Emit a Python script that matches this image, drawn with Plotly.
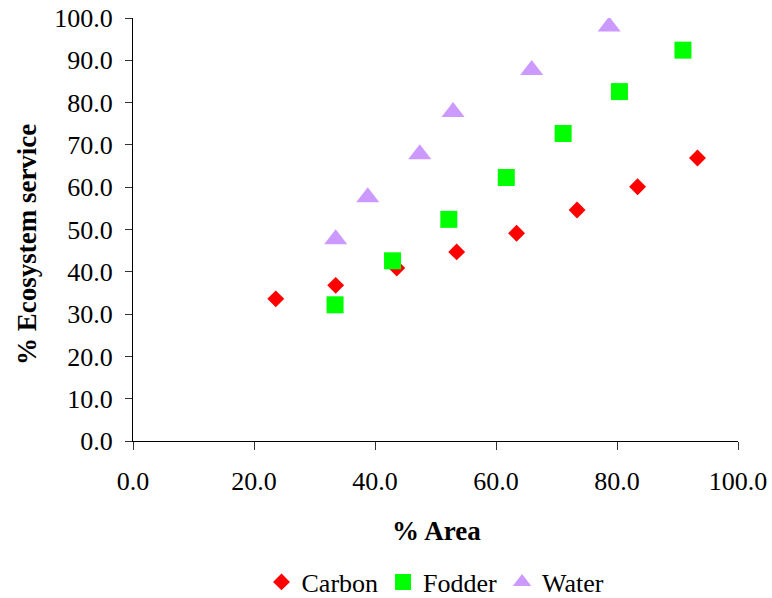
import plotly.graph_objects as go

carbon_x = [23.6, 33.5, 43.6, 53.5, 63.4, 73.4, 83.4, 93.3]
carbon_y = [33.6, 36.8, 40.9, 44.7, 49.1, 54.6, 60.1, 66.9]
fodder_x = [33.4, 42.9, 52.2, 61.7, 71.1, 80.4, 90.9]
fodder_y = [32.2, 42.6, 52.4, 62.3, 72.7, 82.6, 92.4]
water_x = [33.5, 38.8, 47.4, 52.9, 65.9, 78.7]
water_y = [47.7, 57.6, 67.8, 77.8, 87.7, 98.0]
tick_vals_x = [0, 20, 40, 60, 80, 100]
tick_vals_y = [0, 10, 20, 30, 40, 50, 60, 70, 80, 90, 100]

FONT = "Liberation Serif"
F_TICK = dict(family=FONT, size=26, color="black")
F_LEG = dict(family=FONT, size=26, color="black")
F_TITLE = dict(family=FONT, size=27, color="black")

fig = go.Figure()
fig.add_trace(go.Scatter(x=carbon_x, y=carbon_y, mode="markers", name="Carbon",
                         marker=dict(symbol="diamond", size=13, color="#FF0000")))
fig.add_trace(go.Scatter(x=fodder_x, y=fodder_y, mode="markers", name="Fodder",
                         marker=dict(symbol="square", size=17, color="#00FF00")))
fig.add_trace(go.Scatter(x=water_x, y=water_y, mode="markers", name="Water",
                         marker=dict(symbol="triangle-up", size=20, color="#CC99FF")))

PL, PR, PT, PB = 133, 738.5, 18, 441

def px_x(p):
    return (p - PL) / (PR - PL)

def px_y(p):
    return (PB - p) / (PB - PT)

fig.update_layout(
    width=772, height=598,
    margin=dict(l=PL, r=772 - PR, t=PT, b=598 - PB, autoexpand=False),
    paper_bgcolor="white", plot_bgcolor="white",
    font=dict(family=FONT, size=26, color="black"),
    xaxis=dict(range=[0, 100], tickvals=tick_vals_x,
               ticktext=[f"{v:.1f}" for v in tick_vals_x],
               showgrid=False, zeroline=False, showline=True, linecolor="black", linewidth=1,
               ticks="outside", ticklen=8, tickcolor="#333333", tickwidth=1,
               ticklabelstandoff=9, tickfont=F_TICK, automargin=False),
    yaxis=dict(range=[0, 100], tickvals=tick_vals_y,
               ticktext=[f"{v:.1f}" for v in tick_vals_y],
               showgrid=False, zeroline=False, showline=True, linecolor="black", linewidth=1,
               ticks="outside", ticklen=7, tickcolor="#333333", tickwidth=1,
               ticklabelstandoff=7, tickfont=F_TICK, automargin=False),
    showlegend=True,
    legend=dict(orientation="h", x=0.5, xanchor="center", yref="container", y=(598 - 582) / 598,
                yanchor="middle", font=F_LEG, itemwidth=30, tracegroupgap=0),
    annotations=[
        dict(text="<b>% Area</b>", xref="paper", yref="paper", x=px_x(436.5), y=px_y(531),
             xanchor="center", yanchor="middle", showarrow=False, font=F_TITLE),
        dict(text="<b>% Ecosystem service</b>", xref="paper", yref="paper",
             x=px_x(27), y=px_y(245), xanchor="center", yanchor="middle",
             textangle=-90, showarrow=False, font=F_TITLE),
    ],
)

fig.write_html("out.html")
